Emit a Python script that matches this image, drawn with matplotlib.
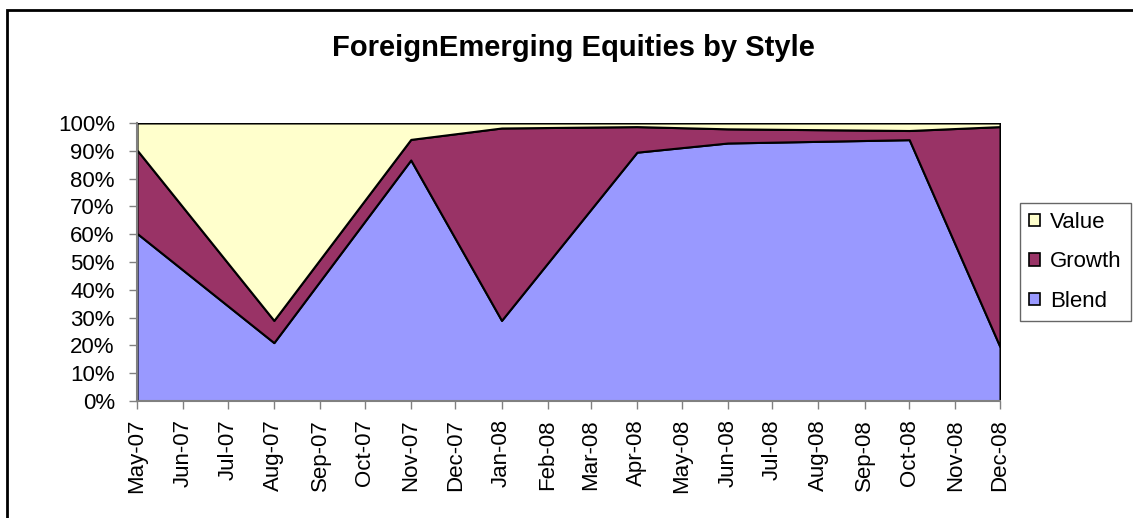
import datetime as dt

import matplotlib
matplotlib.use('Agg')
import matplotlib.pyplot as plt
import matplotlib.dates as mdates
from matplotlib.patches import Patch, Rectangle
from matplotlib.ticker import MultipleLocator, FuncFormatter

plt.rcParams['font.family'] = ['Liberation Sans', 'DejaVu Sans']

# months where the series has a value (Excel joins them with straight lines)
months = ['2007-05', '2007-08', '2007-11', '2008-01', '2008-04', '2008-06', '2008-10', '2008-12']
blend = [60.3, 21.0, 86.7, 29.0, 89.5, 92.8, 94.0, 19.5]
growth = [30.0, 8.0, 7.4, 69.2, 9.2, 5.1, 3.3, 79.2]
value = [9.7, 71.0, 5.9, 1.8, 1.3, 2.1, 2.7, 1.3]

series_names = ['Blend', 'Growth', 'Value']
colors = ['#9999ff', '#993366', '#ffffcc']

title = 'ForeignEmerging Equities by Style'


dates = [dt.datetime.strptime(m, '%Y-%m') for m in months]

fig = plt.figure(figsize=(11.33, 5.18), dpi=100)

# outer chart border (runs off the right / bottom of the picture)
fig.patches.append(Rectangle((7 / 1133, -0.05), 1.1, 1 - 10 / 518 + 0.05, transform=fig.transFigure,
							 fill=False, edgecolor='black', linewidth=2))

ax = fig.add_axes([137 / 1133, 1 - 401 / 518, (1000 - 137) / 1133, (401 - 123) / 518])

ax.stackplot(dates, blend, growth, value, colors=colors, edgecolor='black', linewidth=1.5)

ax.set_xlim(dates[0], dates[-1])
ax.set_ylim(0, 100)

ax.yaxis.set_major_locator(MultipleLocator(10))
ax.yaxis.set_major_formatter(FuncFormatter(lambda v, p: f'{v:.0f}%'))

ax.xaxis.set_major_locator(mdates.MonthLocator())
ax.xaxis.set_major_formatter(mdates.DateFormatter('%b-%y'))
plt.setp(ax.get_xticklabels(), rotation=90)

ax.tick_params(axis='both', direction='out', length=6, width=1, color='#808080', labelsize=16)
ax.tick_params(axis='x', pad=7)
ax.tick_params(axis='y', pad=10)

for s in ['top', 'right']:
	ax.spines[s].set_visible(False)
for s in ['left', 'bottom']:
	ax.spines[s].set_color('#808080')
	ax.spines[s].set_linewidth(1.5)

fig.text(0.506, 1 - 48 / 518, title, ha='center', va='center', fontsize=21, fontweight='bold')

handles = [Patch(facecolor=c, edgecolor='black', linewidth=1.2) for c in colors][::-1]
leg = fig.legend(handles, series_names[::-1], loc='upper left', bbox_to_anchor=(1020 / 1133, 1 - 203 / 518),
				 borderaxespad=0, fontsize=16, frameon=True, fancybox=False, borderpad=0.4,
				 handlelength=0.5, handleheight=0.5, handletextpad=0.45, labelspacing=0.83)
leg.get_frame().set_edgecolor('#404040')
leg.get_frame().set_linewidth(1)

fig.savefig('out.png', dpi=100)
